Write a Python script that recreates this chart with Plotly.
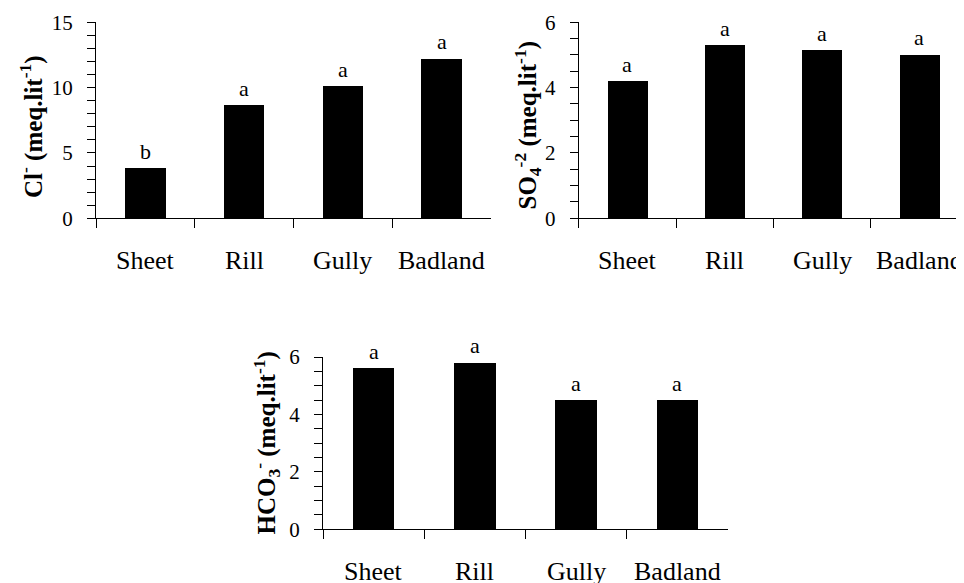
import plotly.graph_objects as go

categories = ["Sheet", "Rill", "Gully", "Badland"]
cl_values = [3.8, 8.65, 10.1, 12.2]
so4_values = [4.2, 5.3, 5.15, 5.0]
hco3_values = [5.6, 5.8, 4.5, 4.5]
cl_letters = ["b", "a", "a", "a"]
so4_letters = ["a", "a", "a", "a"]
hco3_letters = ["a", "a", "a", "a"]

W, H = 964, 583
OX, OY = 8, 8  # page body margin offset
FONT = "Liberation Serif"


def px(x):
    return (x - OX) / W


def py(y):
    return 1 - (y - OY) / H


panels = [
    dict(vals=cl_values, letters=cl_letters, rng=[0, 15], dtick=5, minor=1,
         title="Cl<sup>-</sup> (meq.lit<sup>-1</sup>)",
         xd=[96, 491], yd=[22.3, 218.3], tx=31, ty=127),
    dict(vals=so4_values, letters=so4_letters, rng=[0, 6], dtick=2, minor=0.5,
         title="SO<sub>4</sub><sup>-2</sup> (meq.lit<sup>-1</sup>)",
         xd=[578.7, 968], yd=[22.3, 218.3], tx=527, ty=125.5),
    dict(vals=hco3_values, letters=hco3_letters, rng=[0, 6], dtick=2, minor=0.5,
         title="HCO<sub>3</sub><sup>-</sup> (meq.lit<sup>-1</sup>)",
         xd=[323, 728], yd=[357, 529.3], tx=266, ty=443.5),
]

fig = go.Figure()
annotations = []
xpos = list(range(len(categories)))
for i, p in enumerate(panels, start=1):
    sx = "" if i == 1 else str(i)
    fig.add_trace(go.Bar(x=xpos, y=p["vals"], width=0.41,
                         marker=dict(color="black", line=dict(width=0)),
                         xaxis="x" + sx, yaxis="y" + sx, showlegend=False))
    fig.layout["xaxis" + sx] = dict(
        domain=[px(p["xd"][0]), px(p["xd"][1])], anchor="y" + sx,
        range=[-0.5, 3.5], tickvals=[-0.5, 0.5, 1.5, 2.5],
        showticklabels=False, ticks="outside", ticklen=9, tickwidth=1,
        tickcolor="black", showline=True, linecolor="black", linewidth=1,
        showgrid=False, zeroline=False, fixedrange=True, automargin=False)
    fig.layout["yaxis" + sx] = dict(
        domain=[py(p["yd"][1]), py(p["yd"][0])], anchor="x" + sx,
        range=p["rng"], dtick=p["dtick"], tick0=0, ticks="outside", ticklen=8,
        tickwidth=1, tickcolor="black", showline=True, linecolor="black",
        linewidth=1, showgrid=False, zeroline=False, ticklabelstandoff=10,
        automargin=False,
        tickfont=dict(family=FONT, size=21, color="black"),
        minor=dict(dtick=p["minor"], tick0=0, ticks="outside", ticklen=8,
                   tickwidth=1, tickcolor="black", showgrid=False))
    for xi, (cat, v, let) in enumerate(zip(categories, p["vals"], p["letters"])):
        annotations.append(dict(x=xi, y=0, xref="x" + sx, yref="y" + sx,
                                text=cat, showarrow=False, yanchor="middle",
                                yshift=-42,
                                font=dict(family=FONT, size=26, color="black")))
        annotations.append(dict(x=xi, y=v, xref="x" + sx, yref="y" + sx,
                                text=let, showarrow=False, yanchor="middle",
                                yshift=17,
                                font=dict(family=FONT, size=22, color="black")))
    annotations.append(dict(x=px(p["tx"]), y=py(p["ty"]), xref="paper", yref="paper",
                            text="<b>" + p["title"] + "</b>", textangle=-90,
                            showarrow=False, xanchor="center", yanchor="middle",
                            font=dict(family=FONT, size=25, color="black")))

fig.update_layout(width=W, height=H, margin=dict(l=0, r=0, t=0, b=0, autoexpand=False),
                  paper_bgcolor="white", plot_bgcolor="white",
                  annotations=annotations, bargap=0)
fig.write_html("out.html")
